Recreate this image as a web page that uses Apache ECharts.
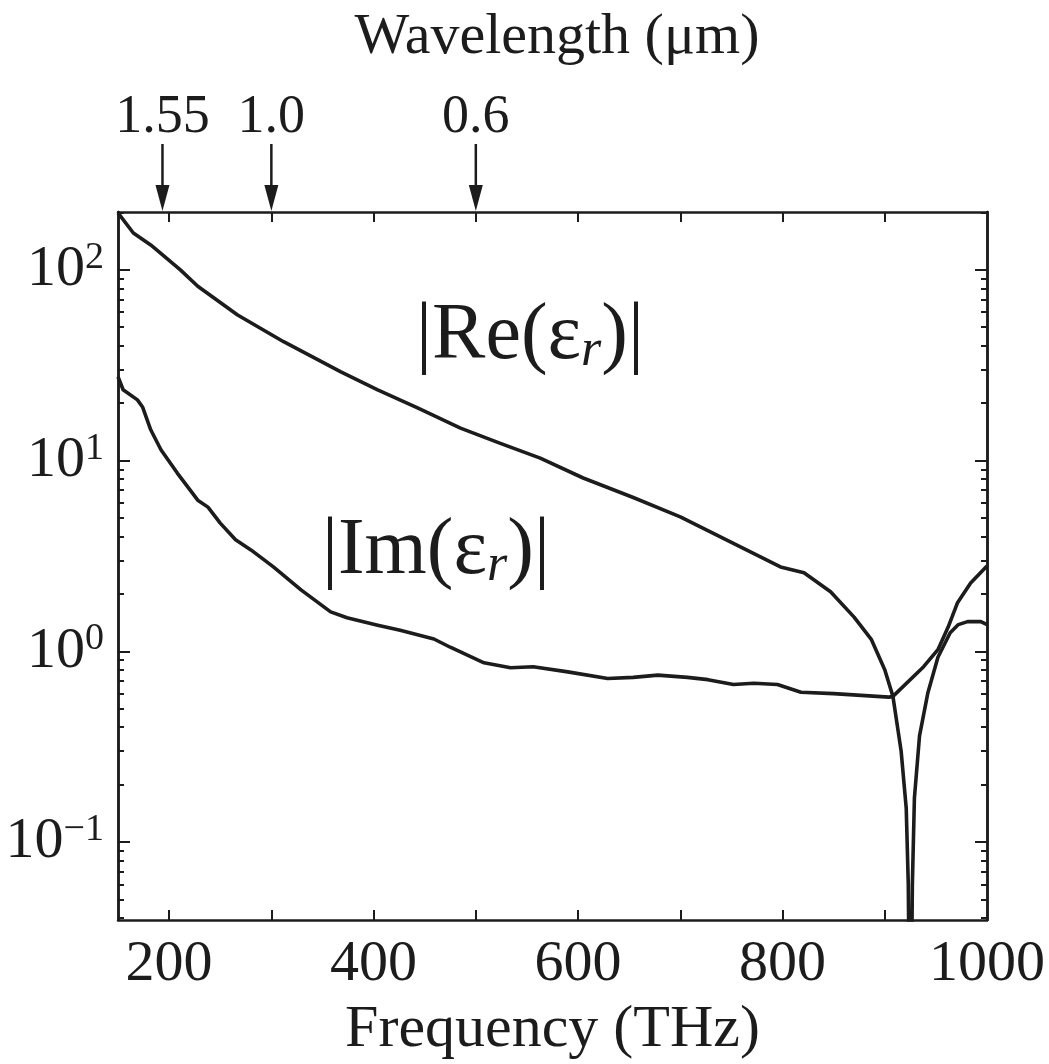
<!DOCTYPE html>
<html><head><meta charset="utf-8">
<script src="https://cdn.jsdelivr.net/npm/echarts@6/dist/echarts.min.js"></script>
<style>html,body{margin:0;padding:0;background:#fff}#c{width:1049px;height:1064px}</style>
</head><body><div id="c"></div>
<script>
// ---- data ----
const reFreq = [150,165,182,211,228,267,312,368,404,443,485,524,563,605,654,700,749,798,821,847,870,887,900,908,916,921,923,925,927,929,934,942,952,964,972,981,994,1000];
const reVal  = [199,156,135,100,82,58,42,29.2,23.5,18.9,14.8,12.3,10.3,8.1,6.4,5.07,3.75,2.77,2.58,2.05,1.51,1.15,0.80,0.58,0.30,0.15,0.06,0.004,0.06,0.17,0.36,0.6,0.93,1.25,1.38,1.43,1.43,1.38];
const imFreq = [150,155,169,174,182,192,208,228,238,250,265,280,302,329,358,374,404,426,459,475,508,534,556,590,629,654,678,707,727,752,772,795,818,850,904,908,938,952,962,971,984,1000];
const imVal  = [27.5,23.5,20.8,19.1,14.5,11.4,8.6,6.2,5.7,4.7,3.84,3.4,2.77,2.1,1.61,1.50,1.37,1.29,1.16,1.05,0.87,0.82,0.83,0.78,0.72,0.73,0.75,0.73,0.71,0.67,0.68,0.67,0.61,0.60,0.575,0.58,0.83,1.02,1.34,1.79,2.28,2.8];
const xTickValues = [200,300,400,500,600,700,800,900];
const xLabelValues = [200,400,600,800,1000];
const yMajorTicks = [0.1,1,10,100];
const yMinorTicks = [0.04,0.05,0.06,0.07,0.08,0.09,0.2,0.3,0.4,0.5,0.6,0.7,0.8,0.9,2,3,4,5,6,7,8,9,20,30,40,50,60,70,80,90,200];
const wlFreqs = [193.5,300,500];
const wlLabels = ['1.55','1.0','0.6'];
const reLabelPos = [553,44.5];
const imLabelPos = [461,3.3];

const FONT = "'Liberation Serif','Times New Roman',serif";
const INK = '#1c1c1c';
const chart = echarts.init(document.getElementById('c'), null, {renderer:'canvas'});

const axisLine = {show:true, onZero:false, lineStyle:{color:INK, width:2.5}};
const expMap = {'-1':'\u22121','0':'0','1':'1','2':'2'};
function yFmt(v){ const e = Math.round(Math.log10(v)); return '{b|10}{s|' + expMap[String(e)] + '}'; }

function yAx(pos, ticks, len, labels){
  return {type:'log', logBase:10, min:0.039, max:201, position:pos,
    axisLine: axisLine,
    axisTick:{show:true, inside:true, length:len, customValues:ticks, lineStyle:{color:INK,width:2}},
    minorTick:{show:false}, splitLine:{show:false},
    axisLabel: labels ? {show:true, customValues:yMajorTicks, formatter:yFmt, margin:14,
      rich:{b:{fontFamily:FONT,fontSize:58,color:INK,lineHeight:62},
            s:{fontFamily:FONT,fontSize:38,color:INK,verticalAlign:'top',lineHeight:40}}} : {show:false}
  };
}

chart.setOption({
  animation:false,
  backgroundColor:'#fff',
  title:{text:'Wavelength (\u03bcm)', left:552, top:4, textAlign:'center',
    textStyle:{fontFamily:FONT,fontSize:58,fontWeight:'normal',color:INK}},
  grid:{left:118, right:62, top:212, bottom:144, containLabel:false, outerBoundsMode:'none'},
  xAxis:[
    {type:'value', min:150, max:1000, position:'bottom', axisLine:axisLine,
     axisTick:{show:true, inside:true, length:10, customValues:xTickValues, lineStyle:{color:INK,width:2}},
     axisLabel:{customValues:xLabelValues, formatter:v=>String(v), fontFamily:FONT, fontSize:58, color:INK, margin:16},
     splitLine:{show:false},
     name:'Frequency (THz)', nameLocation:'middle', nameGap:80,
     nameTextStyle:{fontFamily:FONT,fontSize:60,color:INK}},
    {type:'value', min:150, max:1000, position:'top', axisLine:axisLine,
     axisTick:{show:true, inside:true, length:10, customValues:xTickValues, lineStyle:{color:INK,width:2}},
     axisLabel:{show:false}, splitLine:{show:false}}
  ],
  yAxis:[
    yAx('left', yMajorTicks, 12, true),
    yAx('right', yMajorTicks, 12, false),
    yAx('left', yMinorTicks, 6, false),
    yAx('right', yMinorTicks, 6, false)
  ],
  series:[
    {type:'line', name:'Re', xAxisIndex:0, yAxisIndex:0, showSymbol:false, clip:true,
     data: reFreq.map((f,i)=>[f,reVal[i]]), lineStyle:{color:INK,width:3.6,join:'round'}, z:3},
    {type:'line', name:'Im', xAxisIndex:0, yAxisIndex:0, showSymbol:false, clip:true,
     data: imFreq.map((f,i)=>[f,imVal[i]]), lineStyle:{color:INK,width:3.6,join:'round'}, z:3}
  ]
});

// annotations positioned through the chart's own scales
const px = f => chart.convertToPixel({xAxisIndex:0}, f);
const py = v => chart.convertToPixel({yAxisIndex:0}, v);
const topY = py(201);
const g = [];
wlFreqs.forEach((f,i)=>{
  const x = px(f);
  g.push({type:'line', shape:{x1:x,y1:topY-68,x2:x,y2:topY-20}, style:{stroke:INK,lineWidth:2.5}});
  g.push({type:'polygon', shape:{points:[[x-7,topY-27],[x+7,topY-27],[x,topY-1]]}, style:{fill:INK}});
  g.push({type:'text', x:x, y:topY-94, style:{text:wlLabels[i], fontFamily:FONT, fontSize:54, fill:INK, align:'center', verticalAlign:'middle'}});
});
function curveLabel(name, pos){
  return {type:'text', x:px(pos[0]), y:py(pos[1]), z:10,
    style:{text:'|'+name+'(\u03b5{r|r})|', fontFamily:FONT, fontSize:80, fill:INK, align:'center', verticalAlign:'middle',
      rich:{r:{fontFamily:FONT, fontSize:52, fontStyle:'italic', fill:INK, verticalAlign:'bottom'}}}};
}
g.push(curveLabel('Re', reLabelPos));
g.push(curveLabel('Im', imLabelPos));
chart.setOption({graphic:g});
</script></body></html>
